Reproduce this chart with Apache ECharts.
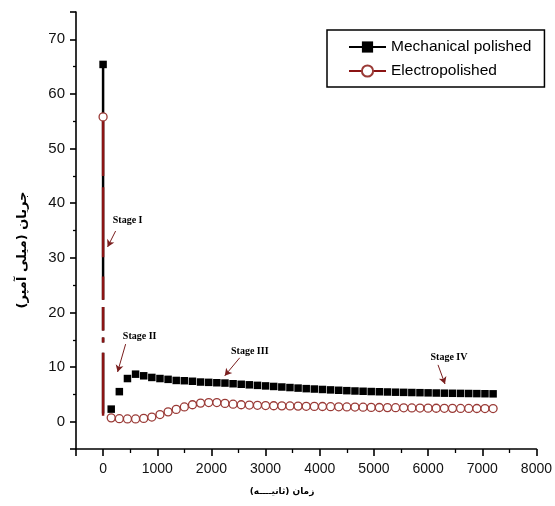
<!DOCTYPE html>
<html><head><meta charset="utf-8">
<script src="https://cdn.jsdelivr.net/npm/echarts@6/dist/echarts.min.js"></script>
<style>html,body{margin:0;padding:0;background:#fff}#c{width:555px;height:506px}</style>
</head><body><div id="c"></div>
<script>
// Initial current spike at t ≈ 0 (breaks marked with '-')
const spikeMechanical = [[0,65.4],[0,22.3],[0,'-'],[0,21],[0,16.7],[0,'-'],[0,15.4],[0,14.5],[0,'-'],[0,12.6],[0,1.5]];
const spikeElectro = [[0,55.8],[0,45.0],[0,'-'],[0,42.9],[0,30.1],[0,'-'],[0,26.6],[0,22.3],[0,'-'],[0,21],[0,16.7],[0,'-'],[0,15.4],[0,14.5],[0,'-'],[0,12.6],[0,1.1]];
// Time (s) of the sampled points after the spike
const times = [150,300,450,600,750,900,1050,1200,1350,1500,1650,1800,1950,2100,2250,2400,2550,2700,2850,3000,3150,3300,3450,3600,3750,3900,4050,4200,4350,4500,4650,4800,4950,5100,5250,5400,5550,5700,5850,6000,6150,6300,6450,6600,6750,6900,7050,7200];
const mechanical = [2.3,5.5,7.9,8.7,8.4,8.1,7.9,7.75,7.55,7.5,7.4,7.26,7.2,7.13,7.07,6.95,6.85,6.75,6.65,6.55,6.45,6.35,6.25,6.15,6.05,5.98,5.9,5.82,5.75,5.68,5.62,5.57,5.52,5.48,5.44,5.4,5.37,5.34,5.31,5.28,5.25,5.22,5.2,5.18,5.16,5.14,5.12,5.1];
const electro = [0.7,0.55,0.5,0.5,0.6,0.85,1.3,1.8,2.25,2.7,3.1,3.4,3.5,3.5,3.35,3.2,3.1,3.05,3.0,2.95,2.92,2.9,2.88,2.85,2.82,2.8,2.78,2.75,2.72,2.7,2.68,2.65,2.62,2.6,2.58,2.56,2.54,2.52,2.5,2.48,2.46,2.45,2.44,2.43,2.42,2.41,2.4,2.4];
const seriesNames = ['Mechanical polished','Electropolished'];
const stageLabels = ['Stage I','Stage II','Stage III','Stage IV'];
const stageTextAt = [[453,36.9],[675,15.7],[2708,12.8],[6386,11.7]];
const stageArrowFrom = [[231,34.9],[416,14.2],[2523,11.7],[6183,10.4]];
const stageArrowTo = [[83,32.0],[268,9.1],[2246,8.4],[6312,6.9]];
const xTitle = 'زمان (ثانیــــه)';
const yTitle = 'جریان (میلی آمپر)';

function spikeData(spike){
  return spike.map((p,i)=> i===0 ? {value:p} : {value:p, symbol:'none'});
}
function pts(vals){ return times.map((t,i)=>[t, vals[i]]); }

const chart = echarts.init(document.getElementById('c'));
const mechStyle = {symbol:'rect', symbolSize:7.5, itemStyle:{color:'#000', opacity:1}};
const elecStyle = {symbol:'circle', symbolSize:8, itemStyle:{color:'#fff', borderColor:'#9a3a36', borderWidth:1.3, opacity:1}};
chart.setOption({
  animation:false,
  backgroundColor:'#fff',
  grid:{left:76, right:18, top:12, bottom:57, containLabel:false},
  legend:{
    orient:'vertical', left:327, top:30,
    padding:[9,13,8,21], itemGap:8, itemWidth:37, itemHeight:14,
    borderColor:'#000', borderWidth:1.5, backgroundColor:'#fff',
    textStyle:{fontFamily:'Liberation Sans', fontSize:15.5, color:'#000'},
    data:seriesNames
  },
  xAxis:{
    type:'value', min:-500, max:8000, minInterval:1000, maxInterval:1000,
    axisLine:{show:true, onZero:false, lineStyle:{color:'#000', width:1.6}},
    splitLine:{show:false},
    axisTick:{show:true, inside:false, length:7, lineStyle:{color:'#000', width:1.6}},
    minorTick:{show:true, splitNumber:2, length:4, lineStyle:{color:'#000', width:1.3}},
    axisLabel:{fontFamily:'Liberation Sans', fontSize:14, color:'#111', margin:13,
      formatter:v=> (v%1000===0 && v>=0) ? String(v) : ''}
  },
  yAxis:{
    type:'value', min:-5, max:75, minInterval:10, maxInterval:10,
    axisLine:{show:true, onZero:false, lineStyle:{color:'#000', width:1.6}},
    splitLine:{show:false},
    axisTick:{show:true, inside:false, length:6, lineStyle:{color:'#000', width:1.6}},
    minorTick:{show:true, splitNumber:2, length:3, lineStyle:{color:'#000', width:1.3}},
    axisLabel:{fontFamily:'Liberation Sans', fontSize:15, color:'#111', margin:11,
      formatter:v=> (v%10===0 && v>=0 && v<=70) ? String(v) : ''}
  },
  graphic:[
    {type:'text', x:282, y:492, style:{text:xTitle, font:'bold 9px "DejaVu Sans"', fill:'#000', align:'center', verticalAlign:'middle'}},
    {type:'text', x:23, y:250, rotation:Math.PI/2, style:{text:yTitle, font:'bold 13px "DejaVu Sans"', fill:'#000', align:'center', verticalAlign:'middle'}}
  ],
  series:[
    Object.assign({
      name:seriesNames[0], type:'line', data:spikeData(spikeMechanical),
      showAllSymbol:true, connectNulls:false,
      lineStyle:{color:'#000', width:2.5}
    }, mechStyle),
    Object.assign({
      name:seriesNames[1], type:'line', data:spikeData(spikeElectro),
      showAllSymbol:true, connectNulls:false,
      lineStyle:{color:'#8b1414', width:2.5}
    }, elecStyle),
    Object.assign({name:seriesNames[0], type:'scatter', data:pts(mechanical)}, mechStyle),
    Object.assign({
      name:seriesNames[1], type:'scatter', data:pts(electro),
      markLine:{
        silent:true, symbol:['none','arrow'], symbolSize:[6,7],
        lineStyle:{color:'#7a1e1e', width:1, type:'solid'}, label:{show:false},
        data: stageArrowFrom.map((f,i)=>[{coord:f},{coord:stageArrowTo[i]}])
      },
      markPoint:{
        silent:true, symbol:'circle', symbolSize:1, itemStyle:{color:'rgba(0,0,0,0)'},
        label:{show:true, position:'inside', formatter:'{b}', fontFamily:'Liberation Serif', fontWeight:'bold', fontSize:10, color:'#000'},
        data: stageLabels.map((s,i)=>({name:s, coord:stageTextAt[i]}))
      }
    }, elecStyle)
  ]
});
</script></body></html>
